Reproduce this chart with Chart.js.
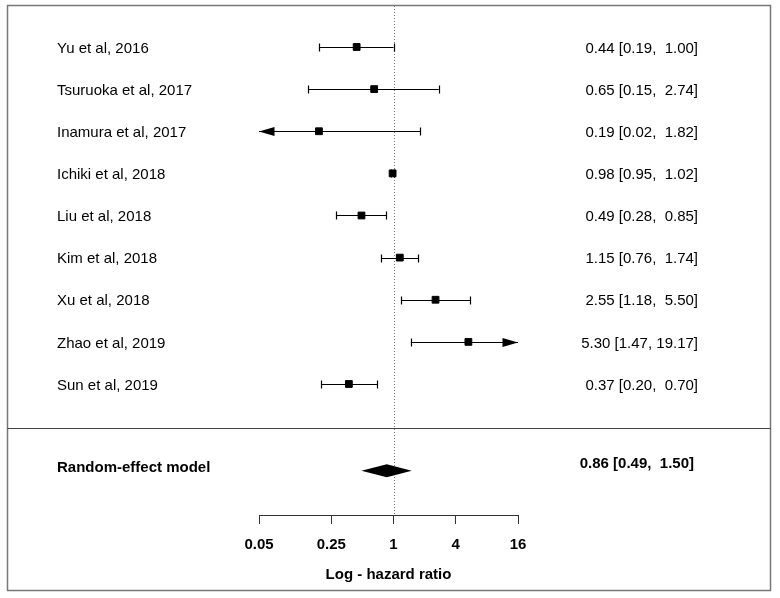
<!DOCTYPE html>
<html>
<head>
<meta charset="utf-8">
<script src="https://cdn.jsdelivr.net/npm/chart.js@4"></script>
<style>
  body { margin: 0; background: #fff; }
  canvas { display: block; }
</style>
</head>
<body>
<canvas id="grafico" width="780" height="598"></canvas>
<script>
// datos del forest plot
const estudios = ['Yu et al, 2016', 'Tsuruoka et al, 2017', 'Inamura et al, 2017', 'Ichiki et al, 2018',
                  'Liu et al, 2018', 'Kim et al, 2018', 'Xu et al, 2018', 'Zhao et al, 2019', 'Sun et al, 2019'];
const hr    = [0.44, 0.65, 0.19, 0.98, 0.49, 1.15, 2.55, 5.30, 0.37];
const ciLow = [0.19, 0.15, 0.02, 0.95, 0.28, 0.76, 1.18, 1.47, 0.20];
const ciUp  = [1.00, 2.74, 1.82, 1.02, 0.85, 1.74, 5.50, 19.17, 0.70];
const filas = [9, 8, 7, 6, 5, 4, 3, 2, 1];

const resumenEtiqueta = 'Random-effect model';
const resumenHr = 0.86, resumenLow = 0.49, resumenUp = 1.50;
const resumenFila = -1;

const tickValores = [0.05, 0.25, 1, 4, 16];
const tickEtiquetas = ['0.05', '0.25', '1', '4', '16'];
const ejeTitulo = 'Log - hazard ratio';

const fuente = '"Liberation Sans", Arial, sans-serif';

function formatoIC(e, lo, hi) {
    return e.toFixed(2) + ' [' + lo.toFixed(2) + ', ' + hi.toFixed(2).padStart(5, ' ') + ']';
}

const pluginForest = {
    id: 'forest',
    beforeDatasetsDraw(chart) {
        const ctx = chart.ctx;
        const x = chart.scales.x, y = chart.scales.y;
        const area = chart.chartArea;

        // linea de referencia en 1
        ctx.save();
        ctx.strokeStyle = '#777';
        ctx.lineWidth = 1;
        ctx.setLineDash([1, 2]);
        const x1 = Math.round(x.getPixelForValue(1)) + 0.5;
        ctx.beginPath();
        ctx.moveTo(x1, 6);
        ctx.lineTo(x1, area.bottom);
        ctx.stroke();
        ctx.restore();

        // intervalos de confianza
        ctx.save();
        ctx.strokeStyle = '#000';
        ctx.fillStyle = '#000';
        ctx.lineWidth = 1.2;
        filas.forEach((fila, i) => {
            const py = Math.round(y.getPixelForValue(fila)) + 0.5;
            const lo = Math.max(ciLow[i], x.min), hi = Math.min(ciUp[i], x.max);
            const pLo = x.getPixelForValue(lo), pHi = x.getPixelForValue(hi);
            ctx.beginPath();
            ctx.moveTo(pLo, py);
            ctx.lineTo(pHi, py);
            ctx.stroke();
            [[ciLow[i] < x.min, pLo, 1], [ciUp[i] > x.max, pHi, -1]].forEach(([cortado, px, dir]) => {
                ctx.beginPath();
                if (cortado) {
                    ctx.moveTo(px, py);
                    ctx.lineTo(px + dir * 15.5, py - 4.5);
                    ctx.lineTo(px + dir * 15.5, py + 4.5);
                    ctx.closePath();
                    ctx.fill();
                } else {
                    const cx = Math.round(px) + 0.5;
                    ctx.moveTo(cx, py - 4);
                    ctx.lineTo(cx, py + 4);
                    ctx.stroke();
                }
            });
        });

        // diamante del modelo
        const dy = y.getPixelForValue(resumenFila) + 2.5;
        ctx.beginPath();
        ctx.moveTo(x.getPixelForValue(resumenLow), dy);
        ctx.lineTo(x.getPixelForValue(resumenHr), dy - 6.5);
        ctx.lineTo(x.getPixelForValue(resumenUp), dy);
        ctx.lineTo(x.getPixelForValue(resumenHr), dy + 6.5);
        ctx.closePath();
        ctx.fill();
        ctx.restore();
    },
    afterDraw(chart) {
        const ctx = chart.ctx;
        const y = chart.scales.y;
        ctx.save();

        // marco y separador
        ctx.strokeStyle = '#777';
        ctx.lineWidth = 1.5;
        ctx.strokeRect(7.5, 5.5, 763, 585);
        ctx.strokeStyle = '#444';
        ctx.lineWidth = 1;
        ctx.beginPath();
        ctx.moveTo(7.5, 428.5);
        ctx.lineTo(770.5, 428.5);
        ctx.stroke();

        // textos
        ctx.fillStyle = '#000';
        ctx.textBaseline = 'middle';
        ctx.font = '15px ' + fuente;
        filas.forEach((fila, i) => {
            const py = y.getPixelForValue(fila) + 1.5;
            ctx.textAlign = 'left';
            ctx.fillText(estudios[i], 57, py);
            ctx.textAlign = 'right';
            ctx.fillText(formatoIC(hr[i], ciLow[i], ciUp[i]), 698, py);
        });
        const ry = y.getPixelForValue(resumenFila);
        ctx.font = 'bold 15px ' + fuente;
        ctx.textAlign = 'left';
        ctx.fillText(resumenEtiqueta, 57, ry);
        ctx.textAlign = 'right';
        ctx.fillText(formatoIC(resumenHr, resumenLow, resumenUp), 694, ry - 4.5);
        ctx.restore();
    }
};

new Chart(document.getElementById('grafico').getContext('2d'), {
    type: 'scatter',
    data: {
        datasets: [{
            data: filas.map((fila, i) => ({ x: hr[i], y: fila })),
            pointStyle: 'rect',
            pointRadius: 4.8,
            pointBackgroundColor: '#000',
            pointBorderColor: '#000',
            pointBorderWidth: 1,
            clip: false
        }]
    },
    options: {
        responsive: false,
        animation: false,
        layout: { padding: { left: 259, right: 262, top: 6, bottom: 14 } },
        plugins: { legend: { display: false }, tooltip: { enabled: false } },
        scales: {
            x: {
                type: 'logarithmic',
                min: 0.05,
                max: 16,
                afterBuildTicks: (scale) => { scale.ticks = tickValores.map(v => ({ value: v })); },
                ticks: {
                    autoSkip: false,
                    maxRotation: 0,
                    padding: 12,
                    color: '#000',
                    font: { family: fuente, size: 15, weight: 'bold' },
                    callback: (v) => tickEtiquetas[tickValores.indexOf(v)]
                },
                grid: { drawOnChartArea: false, drawTicks: true, tickLength: 9, color: '#333' },
                border: { display: true, color: '#333', width: 1 },
                title: {
                    display: true,
                    text: ejeTitulo,
                    color: '#000',
                    font: { family: fuente, size: 15, weight: 'bold' },
                    padding: { top: 0, bottom: 0 }
                }
            },
            y: {
                type: 'linear',
                display: false,
                min: -2.11,
                max: 9.973
            }
        }
    },
    plugins: [pluginForest]
});
</script>
</body>
</html>
